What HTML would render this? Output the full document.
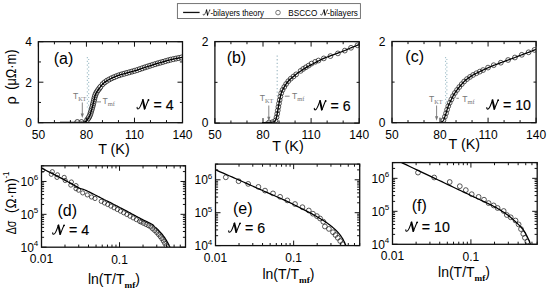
<!DOCTYPE html>
<html><head><meta charset="utf-8"><style>
html,body{margin:0;padding:0;background:#fff;}
svg{display:block;}
</style></head><body>
<svg xmlns="http://www.w3.org/2000/svg" width="550" height="292" viewBox="0 0 550 292">
<rect width="550" height="292" fill="#fff"/>
<clipPath id="ca"><rect x="38.4" y="41.7" width="144.10" height="81.00"/></clipPath>
<g clip-path="url(#ca)">
<g fill="#fff" stroke="#222" stroke-width="0.9"><circle cx="87.18" cy="119.87" r="2.5"/><circle cx="88.36" cy="118.25" r="2.5"/><circle cx="89.33" cy="116.51" r="2.5"/><circle cx="90.13" cy="114.67" r="2.5"/><circle cx="90.73" cy="112.77" r="2.5"/><circle cx="91.27" cy="110.84" r="2.5"/><circle cx="91.83" cy="108.92" r="2.5"/><circle cx="92.36" cy="106.99" r="2.5"/><circle cx="92.86" cy="105.06" r="2.5"/><circle cx="93.31" cy="103.11" r="2.5"/><circle cx="93.75" cy="101.16" r="2.5"/><circle cx="94.21" cy="99.21" r="2.5"/><circle cx="94.66" cy="97.26" r="2.5"/><circle cx="95.19" cy="95.33" r="2.5"/><circle cx="95.94" cy="93.48" r="2.5"/><circle cx="96.92" cy="91.74" r="2.5"/><circle cx="98.05" cy="90.09" r="2.5"/><circle cx="99.27" cy="88.51" r="2.5"/><circle cx="100.42" cy="86.87" r="2.5"/><circle cx="102.62" cy="84.16" r="2.5"/><circle cx="104.65" cy="82.37" r="2.5"/><circle cx="106.85" cy="80.82" r="2.5"/><circle cx="109.19" cy="79.46" r="2.5"/><circle cx="111.61" cy="78.28" r="2.5"/><circle cx="114.08" cy="77.18" r="2.5"/><circle cx="116.58" cy="76.16" r="2.5"/><circle cx="119.11" cy="75.22" r="2.5"/><circle cx="121.69" cy="74.41" r="2.5"/><circle cx="124.29" cy="73.68" r="2.5"/><circle cx="126.89" cy="72.96" r="2.5"/><circle cx="129.49" cy="72.24" r="2.5"/><circle cx="132.10" cy="71.53" r="2.5"/><circle cx="134.69" cy="70.80" r="2.5"/><circle cx="137.27" cy="70.00" r="2.5"/><circle cx="139.83" cy="69.13" r="2.5"/><circle cx="142.38" cy="68.25" r="2.5"/><circle cx="144.94" cy="67.39" r="2.5"/><circle cx="147.51" cy="66.55" r="2.5"/><circle cx="150.07" cy="65.71" r="2.5"/><circle cx="152.65" cy="64.90" r="2.5"/><circle cx="155.23" cy="64.10" r="2.5"/><circle cx="157.82" cy="63.34" r="2.5"/><circle cx="160.41" cy="62.58" r="2.5"/><circle cx="163.00" cy="61.84" r="2.5"/><circle cx="165.60" cy="61.09" r="2.5"/><circle cx="168.20" cy="60.35" r="2.5"/><circle cx="170.81" cy="59.67" r="2.5"/><circle cx="173.44" cy="59.08" r="2.5"/><circle cx="176.09" cy="58.54" r="2.5"/><circle cx="178.74" cy="58.01" r="2.5"/><circle cx="181.39" cy="57.50" r="2.5"/><circle cx="77.30" cy="122.10" r="2.5"/><circle cx="81.50" cy="122.10" r="2.5"/></g>
<path d="M60.00,122.40 L60.67,122.40 L61.55,122.40 L62.59,122.40 L63.76,122.40 L65.02,122.41 L66.34,122.41 L67.69,122.41 L69.02,122.41 L70.30,122.41 L71.50,122.41 L72.58,122.40 L73.50,122.40 L74.29,122.40 L75.01,122.39 L75.66,122.39 L76.26,122.38 L76.81,122.38 L77.31,122.37 L77.79,122.36 L78.24,122.35 L78.68,122.34 L79.11,122.33 L79.55,122.32 L80.00,122.30 L80.45,122.29 L80.88,122.29 L81.30,122.29 L81.71,122.29 L82.10,122.30 L82.48,122.29 L82.84,122.28 L83.19,122.26 L83.53,122.23 L83.87,122.17 L84.19,122.10 L84.50,122.00 L84.80,121.88 L85.08,121.74 L85.35,121.59 L85.60,121.42 L85.85,121.23 L86.08,121.04 L86.31,120.83 L86.53,120.60 L86.75,120.37 L86.96,120.12 L87.18,119.87 L87.40,119.60 L87.62,119.32 L87.84,119.03 L88.05,118.72 L88.27,118.40 L88.48,118.06 L88.68,117.72 L88.88,117.37 L89.08,117.00 L89.27,116.64 L89.45,116.26 L89.63,115.88 L89.80,115.50 L89.96,115.11 L90.12,114.71 L90.26,114.30 L90.40,113.87 L90.53,113.45 L90.66,113.01 L90.79,112.58 L90.91,112.14 L91.03,111.70 L91.15,111.26 L91.28,110.83 L91.40,110.40 L91.52,109.98 L91.65,109.55 L91.77,109.13 L91.89,108.70 L92.01,108.28 L92.12,107.86 L92.24,107.43 L92.36,107.01 L92.47,106.58 L92.58,106.16 L92.69,105.73 L92.80,105.30 L92.91,104.87 L93.01,104.44 L93.11,104.00 L93.21,103.57 L93.31,103.14 L93.41,102.70 L93.50,102.26 L93.60,101.83 L93.70,101.40 L93.80,100.96 L93.90,100.53 L94.00,100.10 L94.10,99.67 L94.21,99.22 L94.31,98.78 L94.41,98.33 L94.51,97.88 L94.62,97.44 L94.72,97.00 L94.83,96.57 L94.94,96.15 L95.06,95.75 L95.18,95.37 L95.30,95.00 L95.43,94.66 L95.55,94.33 L95.69,94.02 L95.82,93.73 L95.95,93.44 L96.09,93.17 L96.24,92.90 L96.38,92.64 L96.53,92.38 L96.68,92.12 L96.84,91.86 L97.00,91.60 L97.16,91.34 L97.33,91.09 L97.50,90.85 L97.67,90.61 L97.84,90.37 L98.02,90.14 L98.20,89.90 L98.39,89.66 L98.58,89.41 L98.78,89.15 L98.99,88.88 L99.20,88.60 L99.42,88.30 L99.65,87.98 L99.88,87.65 L100.12,87.30 L100.37,86.95 L100.62,86.60 L100.87,86.25 L101.13,85.90 L101.40,85.55 L101.66,85.22 L101.93,84.90 L102.20,84.60 L102.47,84.31 L102.74,84.04 L103.01,83.78 L103.28,83.52 L103.56,83.27 L103.84,83.02 L104.12,82.79 L104.42,82.55 L104.72,82.31 L105.04,82.08 L105.36,81.84 L105.70,81.60 L106.04,81.36 L106.39,81.13 L106.73,80.90 L107.08,80.67 L107.44,80.45 L107.81,80.22 L108.20,80.00 L108.61,79.77 L109.04,79.54 L109.49,79.30 L109.98,79.05 L110.50,78.80 L111.06,78.53 L111.65,78.26 L112.28,77.97 L112.94,77.68 L113.62,77.38 L114.32,77.08 L115.03,76.78 L115.75,76.49 L116.47,76.20 L117.19,75.92 L117.90,75.65 L118.60,75.40 L119.29,75.16 L119.99,74.93 L120.69,74.71 L121.40,74.50 L122.11,74.29 L122.82,74.09 L123.53,73.89 L124.24,73.69 L124.96,73.50 L125.67,73.30 L126.39,73.10 L127.10,72.90 L127.81,72.70 L128.53,72.50 L129.24,72.30 L129.96,72.11 L130.68,71.92 L131.39,71.73 L132.11,71.53 L132.83,71.33 L133.55,71.13 L134.27,70.93 L134.98,70.72 L135.70,70.50 L136.41,70.28 L137.13,70.05 L137.83,69.81 L138.54,69.57 L139.25,69.33 L139.96,69.09 L140.67,68.84 L141.38,68.59 L142.10,68.34 L142.83,68.09 L143.56,67.85 L144.30,67.60 L145.05,67.35 L145.82,67.10 L146.59,66.85 L147.38,66.59 L148.17,66.33 L148.96,66.07 L149.75,65.82 L150.53,65.57 L151.31,65.32 L152.09,65.07 L152.85,64.83 L153.60,64.60 L154.34,64.37 L155.06,64.15 L155.78,63.94 L156.49,63.73 L157.19,63.52 L157.89,63.31 L158.59,63.11 L159.29,62.91 L159.99,62.71 L160.69,62.51 L161.39,62.30 L162.10,62.10 L162.81,61.89 L163.53,61.69 L164.24,61.48 L164.96,61.27 L165.68,61.06 L166.39,60.86 L167.11,60.65 L167.83,60.45 L168.55,60.26 L169.27,60.06 L169.98,59.88 L170.70,59.70 L171.43,59.53 L172.20,59.35 L172.98,59.18 L173.77,59.01 L174.56,58.85 L175.34,58.69 L176.10,58.53 L176.83,58.39 L177.53,58.25 L178.18,58.12 L178.77,58.01 L179.30,57.90 L179.77,57.81 L180.18,57.72 L180.55,57.65 L180.89,57.59 L181.18,57.53 L181.44,57.49 L181.67,57.45 L181.87,57.41 L182.05,57.38 L182.21,57.35 L182.36,57.33 L182.50,57.30" fill="none" stroke="#000" stroke-width="1.35" stroke-linejoin="round"/>
</g>
<clipPath id="cb"><rect x="214.9" y="41.6" width="144.30" height="81.50"/></clipPath>
<g clip-path="url(#cb)">
<g fill="none" stroke="#222" stroke-width="0.75"><circle cx="357.50" cy="45.30" r="2.4"/><circle cx="351.00" cy="47.80" r="2.4"/><circle cx="344.80" cy="50.60" r="2.4"/><circle cx="337.90" cy="53.40" r="2.4"/><circle cx="330.40" cy="56.10" r="2.4"/><circle cx="323.80" cy="58.40" r="2.4"/><circle cx="318.50" cy="60.50" r="2.4"/><circle cx="315.20" cy="61.80" r="2.4"/><circle cx="311.50" cy="63.60" r="2.4"/><circle cx="308.60" cy="65.60" r="2.4"/><circle cx="305.80" cy="67.30" r="2.4"/><circle cx="303.20" cy="68.90" r="2.4"/><circle cx="300.60" cy="70.90" r="2.4"/><circle cx="269.00" cy="122.45" r="2.4"/><circle cx="272.49" cy="122.19" r="2.4"/><circle cx="275.38" cy="120.55" r="2.4"/><circle cx="276.51" cy="117.25" r="2.4"/><circle cx="277.22" cy="113.82" r="2.4"/><circle cx="277.80" cy="110.37" r="2.4"/><circle cx="278.37" cy="106.91" r="2.4"/><circle cx="278.98" cy="103.47" r="2.4"/><circle cx="279.66" cy="100.03" r="2.4"/><circle cx="280.40" cy="96.61" r="2.4"/><circle cx="281.22" cy="93.21" r="2.4"/><circle cx="282.54" cy="89.98" r="2.4"/><circle cx="284.29" cy="86.95" r="2.4"/><circle cx="286.14" cy="83.98" r="2.4"/><circle cx="288.27" cy="81.21" r="2.4"/><circle cx="290.72" cy="78.71" r="2.4"/><circle cx="293.44" cy="76.51" r="2.4"/><circle cx="296.19" cy="74.34" r="2.4"/></g>
<path d="M262.00,122.50 L262.40,122.50 L262.91,122.50 L263.52,122.50 L264.21,122.50 L264.95,122.50 L265.73,122.49 L266.52,122.49 L267.31,122.48 L268.07,122.47 L268.79,122.45 L269.44,122.43 L270.00,122.40 L270.50,122.37 L270.96,122.34 L271.40,122.30 L271.81,122.27 L272.20,122.23 L272.56,122.18 L272.89,122.13 L273.21,122.07 L273.51,121.99 L273.79,121.91 L274.05,121.81 L274.30,121.70 L274.52,121.58 L274.72,121.45 L274.88,121.31 L275.02,121.16 L275.14,121.01 L275.24,120.84 L275.34,120.66 L275.43,120.46 L275.51,120.25 L275.60,120.02 L275.69,119.77 L275.80,119.50 L275.91,119.22 L276.01,118.95 L276.11,118.67 L276.20,118.37 L276.30,118.07 L276.39,117.74 L276.48,117.38 L276.57,116.99 L276.67,116.57 L276.77,116.09 L276.88,115.57 L277.00,115.00 L277.12,114.35 L277.26,113.62 L277.39,112.83 L277.54,111.98 L277.68,111.10 L277.83,110.19 L277.98,109.27 L278.13,108.35 L278.28,107.45 L278.42,106.59 L278.56,105.76 L278.70,105.00 L278.83,104.28 L278.96,103.58 L279.09,102.90 L279.22,102.24 L279.34,101.60 L279.47,100.97 L279.59,100.36 L279.71,99.76 L279.84,99.18 L279.96,98.61 L280.08,98.05 L280.20,97.50 L280.32,96.97 L280.43,96.44 L280.55,95.94 L280.66,95.44 L280.77,94.97 L280.88,94.50 L280.99,94.05 L281.11,93.61 L281.22,93.19 L281.34,92.78 L281.47,92.38 L281.60,92.00 L281.73,91.64 L281.87,91.30 L282.01,90.99 L282.16,90.69 L282.30,90.41 L282.45,90.14 L282.60,89.87 L282.76,89.61 L282.91,89.34 L283.07,89.07 L283.23,88.79 L283.40,88.50 L283.57,88.20 L283.75,87.88 L283.93,87.57 L284.11,87.25 L284.30,86.93 L284.49,86.61 L284.68,86.29 L284.87,85.97 L285.05,85.67 L285.24,85.37 L285.42,85.08 L285.60,84.80 L285.77,84.54 L285.94,84.28 L286.10,84.04 L286.25,83.81 L286.41,83.58 L286.56,83.36 L286.72,83.14 L286.88,82.91 L287.05,82.69 L287.22,82.47 L287.41,82.24 L287.60,82.00 L287.80,81.76 L288.00,81.52 L288.21,81.27 L288.42,81.03 L288.64,80.78 L288.86,80.54 L289.09,80.29 L289.33,80.04 L289.58,79.78 L289.84,79.53 L290.12,79.26 L290.40,79.00 L290.70,78.73 L291.02,78.45 L291.36,78.17 L291.71,77.88 L292.07,77.59 L292.43,77.30 L292.80,77.01 L293.17,76.72 L293.54,76.43 L293.90,76.15 L294.26,75.87 L294.60,75.60 L294.93,75.34 L295.26,75.08 L295.57,74.83 L295.89,74.58 L296.20,74.34 L296.51,74.09 L296.83,73.85 L297.14,73.61 L297.47,73.36 L297.80,73.11 L298.14,72.86 L298.50,72.60 L298.87,72.33 L299.24,72.06 L299.63,71.79 L300.02,71.51 L300.42,71.23 L300.82,70.95 L301.23,70.67 L301.64,70.39 L302.06,70.11 L302.47,69.84 L302.89,69.57 L303.30,69.30 L303.71,69.04 L304.10,68.80 L304.49,68.56 L304.87,68.33 L305.26,68.09 L305.65,67.86 L306.05,67.63 L306.47,67.39 L306.91,67.13 L307.38,66.87 L307.87,66.59 L308.40,66.30 L308.97,65.98 L309.57,65.65 L310.21,65.30 L310.87,64.94 L311.56,64.57 L312.26,64.19 L312.96,63.81 L313.67,63.43 L314.37,63.06 L315.07,62.69 L315.75,62.34 L316.40,62.00 L317.04,61.67 L317.67,61.35 L318.30,61.03 L318.93,60.71 L319.55,60.40 L320.16,60.10 L320.78,59.80 L321.39,59.51 L321.99,59.22 L322.60,58.94 L323.20,58.67 L323.80,58.40 L324.40,58.14 L324.99,57.90 L325.58,57.66 L326.16,57.43 L326.74,57.21 L327.32,56.99 L327.90,56.77 L328.47,56.56 L329.05,56.35 L329.63,56.13 L330.21,55.92 L330.80,55.70 L331.39,55.48 L331.98,55.26 L332.57,55.04 L333.17,54.83 L333.76,54.61 L334.36,54.39 L334.95,54.18 L335.54,53.96 L336.14,53.75 L336.73,53.53 L337.32,53.32 L337.90,53.10 L338.48,52.88 L339.07,52.67 L339.66,52.45 L340.24,52.24 L340.82,52.02 L341.41,51.81 L341.98,51.59 L342.56,51.37 L343.13,51.16 L343.69,50.94 L344.25,50.72 L344.80,50.50 L345.33,50.28 L345.85,50.06 L346.35,49.84 L346.84,49.63 L347.33,49.41 L347.82,49.19 L348.31,48.97 L348.81,48.74 L349.33,48.51 L349.86,48.28 L350.42,48.04 L351.00,47.80 L351.64,47.54 L352.35,47.26 L353.10,46.96 L353.89,46.65 L354.69,46.34 L355.49,46.03 L356.26,45.73 L357.00,45.45 L357.68,45.19 L358.28,44.95 L358.80,44.76 L359.20,44.60" fill="none" stroke="#000" stroke-width="1.25" stroke-linejoin="round"/>
</g>
<clipPath id="cc"><rect x="392.0" y="41.5" width="144.10" height="81.20"/></clipPath>
<g clip-path="url(#cc)">
<g fill="none" stroke="#222" stroke-width="0.75"><circle cx="534.50" cy="49.90" r="2.4"/><circle cx="528.60" cy="52.30" r="2.4"/><circle cx="521.80" cy="54.80" r="2.4"/><circle cx="514.90" cy="57.50" r="2.4"/><circle cx="508.10" cy="60.00" r="2.4"/><circle cx="500.80" cy="62.70" r="2.4"/><circle cx="493.70" cy="65.20" r="2.4"/><circle cx="488.00" cy="67.60" r="2.4"/><circle cx="443.48" cy="120.16" r="2.4"/><circle cx="444.90" cy="116.75" r="2.4"/><circle cx="446.06" cy="113.24" r="2.4"/><circle cx="447.10" cy="109.69" r="2.4"/><circle cx="448.25" cy="106.17" r="2.4"/><circle cx="449.71" cy="102.78" r="2.4"/><circle cx="451.36" cy="99.46" r="2.4"/><circle cx="452.97" cy="96.13" r="2.4"/><circle cx="454.89" cy="92.97" r="2.4"/><circle cx="457.03" cy="89.95" r="2.4"/><circle cx="459.29" cy="87.03" r="2.4"/><circle cx="461.69" cy="84.21" r="2.4"/><circle cx="464.18" cy="81.48" r="2.4"/><circle cx="466.99" cy="79.06" r="2.4"/><circle cx="470.00" cy="76.92" r="2.4"/><circle cx="473.12" cy="74.93" r="2.4"/><circle cx="476.40" cy="73.23" r="2.4"/><circle cx="479.75" cy="71.64" r="2.4"/><circle cx="483.09" cy="70.05" r="2.4"/></g>
<path d="M436.00,122.50 L436.25,122.50 L436.57,122.50 L436.96,122.51 L437.39,122.51 L437.86,122.52 L438.35,122.53 L438.85,122.52 L439.34,122.51 L439.82,122.48 L440.26,122.44 L440.66,122.38 L441.00,122.30 L441.29,122.21 L441.55,122.11 L441.79,122.00 L442.00,121.89 L442.20,121.76 L442.38,121.62 L442.55,121.46 L442.72,121.28 L442.88,121.07 L443.05,120.85 L443.22,120.59 L443.40,120.30 L443.59,119.97 L443.77,119.60 L443.96,119.20 L444.14,118.77 L444.33,118.31 L444.51,117.84 L444.68,117.35 L444.86,116.87 L445.02,116.38 L445.19,115.90 L445.35,115.44 L445.50,115.00 L445.65,114.57 L445.78,114.15 L445.91,113.73 L446.04,113.31 L446.16,112.90 L446.27,112.48 L446.39,112.07 L446.51,111.66 L446.62,111.24 L446.75,110.83 L446.87,110.42 L447.00,110.00 L447.13,109.58 L447.26,109.17 L447.39,108.75 L447.53,108.33 L447.66,107.92 L447.79,107.50 L447.93,107.08 L448.07,106.67 L448.22,106.25 L448.37,105.83 L448.53,105.42 L448.70,105.00 L448.88,104.58 L449.06,104.17 L449.25,103.75 L449.44,103.33 L449.65,102.92 L449.85,102.50 L450.06,102.08 L450.27,101.67 L450.48,101.25 L450.69,100.83 L450.89,100.42 L451.10,100.00 L451.30,99.58 L451.50,99.17 L451.70,98.75 L451.89,98.33 L452.09,97.92 L452.29,97.50 L452.49,97.08 L452.70,96.67 L452.91,96.25 L453.13,95.83 L453.36,95.42 L453.60,95.00 L453.85,94.58 L454.11,94.17 L454.37,93.75 L454.64,93.33 L454.92,92.92 L455.21,92.50 L455.50,92.08 L455.79,91.67 L456.09,91.25 L456.39,90.83 L456.69,90.42 L457.00,90.00 L457.31,89.58 L457.62,89.17 L457.94,88.75 L458.26,88.33 L458.58,87.92 L458.91,87.50 L459.25,87.08 L459.59,86.67 L459.93,86.25 L460.28,85.83 L460.64,85.42 L461.00,85.00 L461.36,84.58 L461.73,84.17 L462.09,83.75 L462.45,83.33 L462.82,82.92 L463.20,82.50 L463.59,82.08 L463.99,81.67 L464.41,81.25 L464.85,80.83 L465.31,80.42 L465.80,80.00 L466.32,79.58 L466.88,79.14 L467.47,78.70 L468.09,78.25 L468.72,77.80 L469.36,77.36 L470.01,76.92 L470.64,76.50 L471.27,76.09 L471.88,75.70 L472.46,75.34 L473.00,75.00 L473.51,74.69 L474.01,74.41 L474.49,74.15 L474.96,73.91 L475.41,73.69 L475.85,73.48 L476.28,73.28 L476.71,73.09 L477.13,72.89 L477.56,72.70 L477.98,72.50 L478.40,72.30 L478.82,72.09 L479.23,71.89 L479.64,71.69 L480.04,71.50 L480.44,71.31 L480.84,71.12 L481.23,70.93 L481.62,70.74 L482.01,70.56 L482.41,70.37 L482.80,70.19 L483.20,70.00 L483.60,69.81 L483.99,69.63 L484.38,69.45 L484.77,69.27 L485.15,69.09 L485.54,68.91 L485.94,68.73 L486.33,68.54 L486.74,68.36 L487.15,68.18 L487.57,67.99 L488.00,67.80 L488.44,67.61 L488.88,67.42 L489.33,67.22 L489.78,67.03 L490.24,66.83 L490.71,66.63 L491.18,66.43 L491.66,66.23 L492.16,66.03 L492.66,65.82 L493.17,65.61 L493.70,65.40 L494.24,65.19 L494.80,64.97 L495.37,64.75 L495.96,64.52 L496.55,64.30 L497.15,64.07 L497.76,63.84 L498.37,63.61 L498.98,63.38 L499.59,63.15 L500.20,62.93 L500.80,62.70 L501.40,62.47 L502.01,62.25 L502.62,62.02 L503.24,61.79 L503.85,61.56 L504.47,61.34 L505.08,61.11 L505.70,60.89 L506.31,60.66 L506.91,60.44 L507.51,60.22 L508.10,60.00 L508.68,59.79 L509.26,59.57 L509.83,59.37 L510.40,59.16 L510.96,58.95 L511.52,58.75 L512.08,58.55 L512.64,58.34 L513.20,58.13 L513.77,57.93 L514.33,57.71 L514.90,57.50 L515.47,57.28 L516.05,57.06 L516.62,56.83 L517.20,56.61 L517.77,56.38 L518.35,56.15 L518.93,55.92 L519.50,55.69 L520.08,55.47 L520.65,55.24 L521.23,55.02 L521.80,54.80 L522.37,54.59 L522.93,54.38 L523.49,54.17 L524.05,53.97 L524.60,53.76 L525.16,53.56 L525.72,53.36 L526.29,53.16 L526.85,52.95 L527.43,52.74 L528.01,52.52 L528.60,52.30 L529.22,52.06 L529.90,51.81 L530.60,51.54 L531.33,51.26 L532.06,50.97 L532.77,50.69 L533.47,50.42 L534.13,50.17 L534.74,49.93 L535.28,49.72 L535.74,49.54 L536.10,49.40" fill="none" stroke="#000" stroke-width="1.25" stroke-linejoin="round"/>
</g>
<clipPath id="cd"><rect x="41.5" y="165.8" width="144.00" height="81.40"/></clipPath>
<g clip-path="url(#cd)">
<g fill="none" stroke="#222" stroke-width="0.75"><circle cx="42.60" cy="170.20" r="2.1"/><circle cx="52.30" cy="171.70" r="2.1"/><circle cx="51.30" cy="174.30" r="2.1"/><circle cx="57.50" cy="174.80" r="2.1"/><circle cx="57.00" cy="177.40" r="2.1"/><circle cx="64.20" cy="177.40" r="2.1"/><circle cx="65.20" cy="180.50" r="2.1"/><circle cx="71.40" cy="182.00" r="2.1"/><circle cx="70.80" cy="185.10" r="2.1"/><circle cx="76.00" cy="185.60" r="2.1"/><circle cx="76.00" cy="188.70" r="2.1"/><circle cx="78.60" cy="190.20" r="2.1"/><circle cx="82.70" cy="192.90" r="2.1"/><circle cx="87.30" cy="194.90" r="2.1"/><circle cx="91.50" cy="197.00" r="2.1"/><circle cx="95.00" cy="198.50" r="2.1"/><circle cx="101.23" cy="201.33" r="2.1"/><circle cx="104.44" cy="202.96" r="2.1"/><circle cx="107.69" cy="204.50" r="2.1"/><circle cx="110.90" cy="206.13" r="2.1"/><circle cx="114.09" cy="207.80" r="2.1"/><circle cx="117.29" cy="209.46" r="2.1"/><circle cx="120.48" cy="211.12" r="2.1"/><circle cx="123.67" cy="212.79" r="2.1"/><circle cx="126.84" cy="214.49" r="2.1"/><circle cx="130.01" cy="216.20" r="2.1"/><circle cx="133.18" cy="217.91" r="2.1"/><circle cx="136.36" cy="219.60" r="2.1"/><circle cx="139.54" cy="221.28" r="2.1"/><circle cx="141.14" cy="222.11" r="2.1"/><circle cx="143.55" cy="223.32" r="2.1"/><circle cx="145.98" cy="224.50" r="2.1"/><circle cx="148.40" cy="225.70" r="2.1"/><circle cx="150.76" cy="227.01" r="2.1"/><circle cx="152.68" cy="228.89" r="2.1"/><circle cx="154.74" cy="230.63" r="2.1"/><circle cx="156.68" cy="232.50" r="2.1"/><circle cx="158.49" cy="234.51" r="2.1"/><circle cx="160.23" cy="236.58" r="2.1"/><circle cx="161.87" cy="238.72" r="2.1"/><circle cx="163.33" cy="240.99" r="2.1"/><circle cx="164.70" cy="243.31" r="2.1"/><circle cx="166.04" cy="245.66" r="2.1"/></g>
<path d="M41.50,168.10 L42.44,168.58 L43.63,169.19 L45.04,169.91 L46.63,170.71 L48.34,171.59 L50.15,172.51 L52.01,173.46 L53.87,174.42 L55.71,175.36 L57.47,176.27 L59.11,177.12 L60.60,177.90 L61.99,178.64 L63.38,179.37 L64.75,180.11 L66.10,180.84 L67.41,181.55 L68.68,182.24 L69.90,182.91 L71.07,183.55 L72.17,184.16 L73.20,184.72 L74.14,185.23 L75.00,185.70 L75.75,186.11 L76.38,186.46 L76.91,186.76 L77.36,187.02 L77.75,187.24 L78.09,187.44 L78.39,187.61 L78.68,187.77 L78.97,187.92 L79.28,188.07 L79.61,188.23 L80.00,188.40 L80.40,188.56 L80.77,188.69 L81.12,188.79 L81.46,188.88 L81.80,188.96 L82.15,189.04 L82.52,189.13 L82.92,189.24 L83.36,189.37 L83.84,189.54 L84.39,189.74 L85.00,190.00 L85.69,190.31 L86.46,190.66 L87.28,191.06 L88.16,191.48 L89.08,191.93 L90.03,192.40 L90.98,192.88 L91.95,193.36 L92.90,193.84 L93.84,194.31 L94.74,194.77 L95.60,195.20 L96.44,195.62 L97.29,196.05 L98.14,196.48 L98.99,196.92 L99.82,197.35 L100.65,197.77 L101.46,198.19 L102.24,198.59 L102.99,198.98 L103.70,199.34 L104.37,199.69 L105.00,200.00 L105.57,200.28 L106.09,200.54 L106.56,200.76 L106.99,200.97 L107.40,201.16 L107.78,201.34 L108.14,201.51 L108.50,201.67 L108.85,201.84 L109.22,202.02 L109.60,202.20 L110.00,202.40 L110.40,202.60 L110.78,202.79 L111.14,202.98 L111.50,203.16 L111.85,203.35 L112.21,203.54 L112.59,203.74 L112.99,203.95 L113.43,204.18 L113.90,204.43 L114.42,204.70 L115.00,205.00 L115.65,205.34 L116.38,205.72 L117.18,206.13 L118.01,206.57 L118.89,207.02 L119.78,207.48 L120.66,207.94 L121.54,208.40 L122.39,208.84 L123.19,209.26 L123.93,209.65 L124.60,210.00 L125.20,210.32 L125.75,210.61 L126.25,210.88 L126.73,211.13 L127.17,211.37 L127.59,211.59 L127.99,211.81 L128.39,212.03 L128.78,212.24 L129.17,212.45 L129.58,212.67 L130.00,212.90 L130.42,213.13 L130.82,213.35 L131.21,213.56 L131.59,213.76 L131.97,213.97 L132.35,214.18 L132.74,214.39 L133.14,214.60 L133.56,214.83 L134.01,215.07 L134.49,215.33 L135.00,215.60 L135.55,215.89 L136.12,216.20 L136.72,216.51 L137.34,216.84 L137.99,217.18 L138.64,217.53 L139.32,217.89 L140.00,218.24 L140.69,218.61 L141.39,218.97 L142.10,219.34 L142.80,219.70 L143.53,220.07 L144.31,220.46 L145.13,220.86 L145.97,221.27 L146.81,221.68 L147.66,222.09 L148.48,222.50 L149.28,222.90 L150.03,223.28 L150.73,223.64 L151.35,223.99 L151.90,224.30 L152.36,224.58 L152.73,224.84 L153.04,225.07 L153.30,225.29 L153.51,225.49 L153.69,225.68 L153.85,225.87 L154.00,226.06 L154.16,226.25 L154.34,226.45 L154.55,226.67 L154.80,226.90 L155.08,227.14 L155.35,227.38 L155.63,227.61 L155.92,227.84 L156.21,228.08 L156.51,228.33 L156.81,228.59 L157.13,228.87 L157.45,229.16 L157.79,229.48 L158.14,229.82 L158.50,230.20 L158.89,230.61 L159.30,231.07 L159.74,231.55 L160.19,232.06 L160.66,232.59 L161.12,233.13 L161.59,233.68 L162.05,234.23 L162.50,234.77 L162.93,235.30 L163.33,235.81 L163.70,236.30 L164.04,236.77 L164.37,237.23 L164.68,237.68 L164.97,238.13 L165.25,238.57 L165.52,239.00 L165.78,239.43 L166.03,239.85 L166.28,240.27 L166.52,240.68 L166.76,241.09 L167.00,241.50 L167.24,241.91 L167.49,242.33 L167.73,242.75 L167.97,243.17 L168.20,243.58 L168.43,243.99 L168.64,244.38 L168.84,244.76 L169.03,245.11 L169.21,245.44 L169.36,245.74 L169.50,246.00 L169.61,246.23 L169.70,246.43 L169.78,246.60 L169.83,246.75 L169.88,246.87 L169.91,246.98 L169.93,247.07 L169.94,247.15 L169.96,247.22 L169.97,247.28 L169.98,247.34 L170.00,247.40" fill="none" stroke="#000" stroke-width="1.25" stroke-linejoin="round"/>
</g>
<clipPath id="ce"><rect x="215.5" y="164.1" width="144.20" height="81.50"/></clipPath>
<g clip-path="url(#ce)">
<g fill="none" stroke="#222" stroke-width="0.75"><circle cx="225.80" cy="177.30" r="2.4"/><circle cx="238.60" cy="181.20" r="2.4"/><circle cx="248.20" cy="183.90" r="2.4"/><circle cx="258.40" cy="186.90" r="2.4"/><circle cx="265.00" cy="190.60" r="2.4"/><circle cx="273.00" cy="193.40" r="2.4"/><circle cx="280.10" cy="196.80" r="2.4"/><circle cx="287.30" cy="200.40" r="2.4"/><circle cx="295.00" cy="204.00" r="2.4"/><circle cx="302.40" cy="207.20" r="2.4"/><circle cx="308.80" cy="210.50" r="2.4"/><circle cx="312.90" cy="213.70" r="2.4"/><circle cx="316.90" cy="216.10" r="2.4"/><circle cx="320.10" cy="218.50" r="2.4"/><circle cx="323.30" cy="221.70" r="2.4"/><circle cx="324.90" cy="226.50" r="2.4"/><circle cx="328.90" cy="228.90" r="2.4"/><circle cx="333.00" cy="232.20" r="2.4"/><circle cx="335.50" cy="235.00" r="2.4"/><circle cx="337.80" cy="237.80" r="2.4"/><circle cx="340.20" cy="241.00" r="2.4"/><circle cx="342.60" cy="244.20" r="2.4"/></g>
<path d="M215.50,169.80 L216.59,170.27 L217.95,170.87 L219.55,171.56 L221.35,172.34 L223.31,173.19 L225.38,174.09 L227.52,175.02 L229.70,175.97 L231.88,176.92 L234.02,177.85 L236.07,178.75 L238.00,179.60 L239.84,180.41 L241.66,181.22 L243.46,182.02 L245.26,182.82 L247.05,183.62 L248.84,184.42 L250.65,185.23 L252.46,186.04 L254.30,186.87 L256.17,187.70 L258.06,188.54 L260.00,189.40 L262.01,190.29 L264.11,191.21 L266.27,192.15 L268.48,193.11 L270.71,194.08 L272.94,195.05 L275.14,196.01 L277.30,196.96 L279.38,197.88 L281.38,198.76 L283.26,199.61 L285.00,200.40 L286.61,201.15 L288.11,201.86 L289.52,202.53 L290.85,203.18 L292.11,203.80 L293.31,204.41 L294.47,204.99 L295.59,205.56 L296.70,206.13 L297.79,206.68 L298.89,207.24 L300.00,207.80 L301.10,208.35 L302.17,208.88 L303.21,209.39 L304.22,209.89 L305.21,210.38 L306.18,210.87 L307.14,211.35 L308.10,211.84 L309.06,212.34 L310.03,212.84 L311.01,213.36 L312.00,213.90 L313.02,214.47 L314.08,215.06 L315.16,215.67 L316.26,216.30 L317.35,216.93 L318.43,217.57 L319.49,218.20 L320.52,218.81 L321.51,219.41 L322.44,219.97 L323.31,220.51 L324.10,221.00 L324.81,221.45 L325.45,221.86 L326.02,222.24 L326.54,222.60 L327.02,222.94 L327.47,223.26 L327.89,223.57 L328.30,223.88 L328.71,224.19 L329.12,224.51 L329.55,224.85 L330.00,225.20 L330.47,225.57 L330.94,225.95 L331.42,226.33 L331.89,226.71 L332.35,227.10 L332.81,227.49 L333.27,227.88 L333.71,228.27 L334.15,228.65 L334.58,229.04 L335.00,229.42 L335.40,229.80 L335.79,230.17 L336.17,230.54 L336.54,230.91 L336.90,231.28 L337.25,231.64 L337.59,232.01 L337.93,232.37 L338.26,232.73 L338.58,233.10 L338.89,233.46 L339.20,233.83 L339.50,234.20 L339.80,234.57 L340.09,234.95 L340.37,235.33 L340.65,235.72 L340.92,236.10 L341.18,236.49 L341.44,236.87 L341.69,237.25 L341.93,237.62 L342.16,237.99 L342.38,238.35 L342.60,238.70 L342.81,239.04 L343.00,239.38 L343.19,239.71 L343.37,240.03 L343.54,240.35 L343.71,240.66 L343.86,240.97 L344.02,241.28 L344.17,241.59 L344.31,241.89 L344.46,242.20 L344.60,242.50 L344.74,242.81 L344.88,243.14 L345.03,243.48 L345.16,243.82 L345.30,244.16 L345.43,244.49 L345.55,244.80 L345.66,245.10 L345.76,245.38 L345.85,245.62 L345.93,245.83 L346.00,246.00" fill="none" stroke="#000" stroke-width="1.25" stroke-linejoin="round"/>
</g>
<clipPath id="cf"><rect x="392.5" y="162.6" width="144.70" height="81.70"/></clipPath>
<g clip-path="url(#cf)">
<g fill="none" stroke="#222" stroke-width="0.75"><circle cx="418.00" cy="172.60" r="2.4"/><circle cx="434.20" cy="177.50" r="2.4"/><circle cx="449.70" cy="182.00" r="2.4"/><circle cx="459.80" cy="186.20" r="2.4"/><circle cx="465.80" cy="190.10" r="2.4"/><circle cx="471.70" cy="194.20" r="2.4"/><circle cx="478.60" cy="196.90" r="2.4"/><circle cx="484.00" cy="199.70" r="2.4"/><circle cx="488.60" cy="203.10" r="2.4"/><circle cx="493.60" cy="205.40" r="2.4"/><circle cx="497.60" cy="208.00" r="2.4"/><circle cx="503.70" cy="211.00" r="2.4"/><circle cx="506.80" cy="215.00" r="2.4"/><circle cx="510.70" cy="217.30" r="2.4"/><circle cx="515.50" cy="220.50" r="2.4"/><circle cx="518.60" cy="224.40" r="2.4"/><circle cx="521.00" cy="229.10" r="2.4"/><circle cx="523.30" cy="233.80" r="2.4"/><circle cx="524.90" cy="237.80" r="2.4"/><circle cx="527.30" cy="241.70" r="2.4"/></g>
<path d="M401.60,162.60 L403.75,163.62 L406.51,164.93 L409.77,166.48 L413.44,168.22 L417.42,170.11 L421.59,172.09 L425.85,174.11 L430.11,176.13 L434.26,178.10 L438.19,179.97 L441.81,181.68 L445.00,183.20 L447.91,184.58 L450.72,185.92 L453.44,187.20 L456.05,188.44 L458.55,189.63 L460.94,190.76 L463.20,191.83 L465.33,192.84 L467.32,193.79 L469.16,194.67 L470.86,195.47 L472.40,196.20 L473.72,196.83 L474.78,197.33 L475.64,197.74 L476.31,198.06 L476.85,198.31 L477.29,198.52 L477.67,198.70 L478.02,198.87 L478.40,199.04 L478.82,199.25 L479.35,199.49 L480.00,199.80 L480.75,200.15 L481.54,200.52 L482.35,200.89 L483.19,201.28 L484.04,201.67 L484.90,202.07 L485.77,202.47 L486.64,202.88 L487.50,203.29 L488.35,203.69 L489.19,204.10 L490.00,204.50 L490.79,204.90 L491.58,205.29 L492.35,205.67 L493.11,206.06 L493.87,206.45 L494.62,206.84 L495.38,207.23 L496.13,207.64 L496.89,208.06 L497.65,208.49 L498.42,208.94 L499.20,209.40 L499.99,209.89 L500.80,210.39 L501.62,210.91 L502.44,211.44 L503.27,211.98 L504.10,212.54 L504.92,213.10 L505.73,213.66 L506.53,214.22 L507.31,214.79 L508.07,215.35 L508.80,215.90 L509.51,216.45 L510.20,217.01 L510.88,217.58 L511.55,218.15 L512.20,218.72 L512.84,219.29 L513.46,219.85 L514.07,220.42 L514.67,220.98 L515.26,221.53 L515.84,222.07 L516.40,222.60 L516.95,223.12 L517.49,223.63 L518.02,224.13 L518.54,224.63 L519.05,225.12 L519.54,225.61 L520.02,226.09 L520.48,226.57 L520.93,227.05 L521.37,227.53 L521.79,228.01 L522.20,228.50 L522.59,228.99 L522.96,229.48 L523.32,229.96 L523.66,230.45 L523.98,230.94 L524.29,231.43 L524.60,231.91 L524.89,232.39 L525.17,232.87 L525.45,233.35 L525.73,233.83 L526.00,234.30 L526.27,234.77 L526.53,235.25 L526.78,235.73 L527.02,236.21 L527.26,236.69 L527.49,237.17 L527.71,237.64 L527.92,238.10 L528.13,238.54 L528.33,238.98 L528.52,239.40 L528.70,239.80 L528.87,240.19 L529.04,240.57 L529.20,240.94 L529.35,241.30 L529.49,241.64 L529.63,241.98 L529.75,242.30 L529.87,242.61 L529.99,242.91 L530.10,243.19 L530.20,243.45 L530.30,243.70 L530.39,243.93 L530.48,244.14 L530.55,244.34 L530.63,244.52 L530.69,244.69 L530.75,244.84 L530.80,244.98 L530.85,245.11 L530.90,245.23 L530.93,245.33 L530.97,245.42 L531.00,245.50" fill="none" stroke="#000" stroke-width="1.25" stroke-linejoin="round"/>
</g>
<line x1="87.35" y1="57.0" x2="87.35" y2="110" stroke="#a5c2cc" stroke-width="1.15" stroke-dasharray="1.2 2.6"/>
<line x1="88.65" y1="58.9" x2="88.65" y2="110" stroke="#a5c2cc" stroke-width="1.15" stroke-dasharray="1.2 2.6"/>
<text x="72.9" y="98.8" font-size="8.6" fill="#777" font-family="Liberation Sans, sans-serif">T<tspan font-family="Liberation Serif, serif" font-size="6.2" dy="2.6">KT</tspan></text>
<line x1="82.3" y1="102.5" x2="82.3" y2="115" stroke="#777" stroke-width="0.9"/>
<path d="M80.7,113.5 L82.3,118 L83.89999999999999,113.5 Z" fill="#777"/>
<line x1="95.6" y1="101.9" x2="101" y2="101.9" stroke="#777" stroke-width="0.9"/>
<text x="102.4" y="103.6" font-size="8.6" fill="#777" font-family="Liberation Sans, sans-serif">T<tspan font-family="Liberation Serif, serif" font-size="6.5" dy="2.4">mf</tspan></text>
<line x1="277.2" y1="55.5" x2="277.2" y2="96" stroke="#a3bcc6" stroke-width="1.2" stroke-dasharray="1.3 2.3"/>
<text x="259.7" y="100.8" font-size="8.6" fill="#777" font-family="Liberation Sans, sans-serif">T<tspan font-family="Liberation Serif, serif" font-size="6.2" dy="2.6">KT</tspan></text>
<line x1="268.8" y1="105.5" x2="268.8" y2="118.3" stroke="#777" stroke-width="0.9"/>
<path d="M267.2,116.8 L268.8,121.3 L270.40000000000003,116.8 Z" fill="#777"/>
<line x1="284.8" y1="96.2" x2="289.6" y2="96.2" stroke="#777" stroke-width="0.9"/>
<text x="292.0" y="98.6" font-size="8.6" fill="#777" font-family="Liberation Sans, sans-serif">T<tspan font-family="Liberation Serif, serif" font-size="6.5" dy="2.4">mf</tspan></text>
<line x1="445.55" y1="57.0" x2="445.55" y2="104.5" stroke="#a5c2cc" stroke-width="1.15" stroke-dasharray="1.2 2.6"/>
<line x1="446.84999999999997" y1="58.9" x2="446.84999999999997" y2="104.5" stroke="#a5c2cc" stroke-width="1.15" stroke-dasharray="1.2 2.6"/>
<text x="429.1" y="101.6" font-size="8.6" fill="#777" font-family="Liberation Sans, sans-serif">T<tspan font-family="Liberation Serif, serif" font-size="6.2" dy="2.6">KT</tspan></text>
<line x1="436.6" y1="105.5" x2="436.6" y2="117.8" stroke="#777" stroke-width="0.9"/>
<path d="M435.0,116.3 L436.6,120.8 L438.20000000000005,116.3 Z" fill="#777"/>
<line x1="456.4" y1="98.3" x2="458.9" y2="98.3" stroke="#777" stroke-width="0.9"/>
<text x="462.3" y="101.6" font-size="8.6" fill="#777" font-family="Liberation Sans, sans-serif">T<tspan font-family="Liberation Serif, serif" font-size="6.5" dy="2.4">mf</tspan></text>
<rect x="38.4" y="41.7" width="144.10" height="81.00" fill="none" stroke="#111" stroke-width="1.3"/>
<rect x="214.9" y="41.6" width="144.30" height="81.50" fill="none" stroke="#111" stroke-width="1.3"/>
<rect x="392.0" y="41.5" width="144.10" height="81.20" fill="none" stroke="#111" stroke-width="1.3"/>
<rect x="41.5" y="165.8" width="144.00" height="81.40" fill="none" stroke="#111" stroke-width="1.3"/>
<rect x="215.5" y="164.1" width="144.20" height="81.50" fill="none" stroke="#111" stroke-width="1.3"/>
<rect x="392.5" y="162.6" width="144.70" height="81.70" fill="none" stroke="#111" stroke-width="1.3"/>
<path d="M38.40,122.7v-5M38.40,41.7v5M54.41,122.7v-2.6M54.41,41.7v2.6M70.42,122.7v-2.6M70.42,41.7v2.6M86.43,122.7v-5M86.43,41.7v5M102.44,122.7v-2.6M102.44,41.7v2.6M118.46,122.7v-2.6M118.46,41.7v2.6M134.47,122.7v-5M134.47,41.7v5M150.48,122.7v-2.6M150.48,41.7v2.6M166.49,122.7v-2.6M166.49,41.7v2.6M182.50,122.7v-5M182.50,41.7v5M38.4,122.70h5M182.5,122.70h-5M38.4,102.45h2.6M182.5,102.45h-2.6M38.4,82.20h5M182.5,82.20h-5M38.4,61.95h2.6M182.5,61.95h-2.6M38.4,41.70h5M182.5,41.70h-5" stroke="#111" stroke-width="1" fill="none"/>
<path d="M214.90,123.1v-5M214.90,41.6v5M230.93,123.1v-2.6M230.93,41.6v2.6M246.97,123.1v-2.6M246.97,41.6v2.6M263.00,123.1v-5M263.00,41.6v5M279.03,123.1v-2.6M279.03,41.6v2.6M295.07,123.1v-2.6M295.07,41.6v2.6M311.10,123.1v-5M311.10,41.6v5M327.13,123.1v-2.6M327.13,41.6v2.6M343.17,123.1v-2.6M343.17,41.6v2.6M359.20,123.1v-5M359.20,41.6v5M214.9,123.10h5M359.2,123.10h-5M214.9,82.35h2.6M359.2,82.35h-2.6M214.9,41.60h5M359.2,41.60h-5" stroke="#111" stroke-width="1" fill="none"/>
<path d="M392.00,122.7v-5M392.00,41.5v5M408.01,122.7v-2.6M408.01,41.5v2.6M424.02,122.7v-2.6M424.02,41.5v2.6M440.03,122.7v-5M440.03,41.5v5M456.04,122.7v-2.6M456.04,41.5v2.6M472.06,122.7v-2.6M472.06,41.5v2.6M488.07,122.7v-5M488.07,41.5v5M504.08,122.7v-2.6M504.08,41.5v2.6M520.09,122.7v-2.6M520.09,41.5v2.6M536.10,122.7v-5M536.10,41.5v5M392.0,122.70h5M536.1,122.70h-5M392.0,82.10h2.6M536.1,82.10h-2.6M392.0,41.50h5M536.1,41.50h-5" stroke="#111" stroke-width="1" fill="none"/>
<path d="M41.50,247.2v-5M41.50,165.8v5M64.99,247.2v-2.6M64.99,165.8v2.6M78.74,247.2v-2.6M78.74,165.8v2.6M88.49,247.2v-2.6M88.49,165.8v2.6M96.05,247.2v-2.6M96.05,165.8v2.6M102.23,247.2v-2.6M102.23,165.8v2.6M107.46,247.2v-2.6M107.46,165.8v2.6M111.98,247.2v-2.6M111.98,165.8v2.6M115.97,247.2v-2.6M115.97,165.8v2.6M119.54,247.2v-5M119.54,165.8v5M143.04,247.2v-2.6M143.04,165.8v2.6M156.78,247.2v-2.6M156.78,165.8v2.6M166.53,247.2v-2.6M166.53,165.8v2.6M174.10,247.2v-2.6M174.10,165.8v2.6M180.28,247.2v-2.6M180.28,165.8v2.6M185.50,247.2v-2.6M185.50,165.8v2.6M41.5,247.20h5M185.5,247.20h-5M41.5,237.31h2.6M185.5,237.31h-2.6M41.5,231.52h2.6M185.5,231.52h-2.6M41.5,227.42h2.6M185.5,227.42h-2.6M41.5,224.23h2.6M185.5,224.23h-2.6M41.5,221.63h2.6M185.5,221.63h-2.6M41.5,219.43h2.6M185.5,219.43h-2.6M41.5,217.52h2.6M185.5,217.52h-2.6M41.5,215.84h2.6M185.5,215.84h-2.6M41.5,214.34h5M185.5,214.34h-5M41.5,204.45h2.6M185.5,204.45h-2.6M41.5,198.66h2.6M185.5,198.66h-2.6M41.5,194.56h2.6M185.5,194.56h-2.6M41.5,191.37h2.6M185.5,191.37h-2.6M41.5,188.77h2.6M185.5,188.77h-2.6M41.5,186.57h2.6M185.5,186.57h-2.6M41.5,184.66h2.6M185.5,184.66h-2.6M41.5,182.98h2.6M185.5,182.98h-2.6M41.5,181.48h5M185.5,181.48h-5M41.5,171.59h2.6M185.5,171.59h-2.6M41.5,165.80h2.6M185.5,165.80h-2.6" stroke="#111" stroke-width="1" fill="none"/>
<path d="M215.50,245.6v-5M215.50,164.1v5M239.03,245.6v-2.6M239.03,164.1v2.6M252.79,245.6v-2.6M252.79,164.1v2.6M262.55,245.6v-2.6M262.55,164.1v2.6M270.13,245.6v-2.6M270.13,164.1v2.6M276.31,245.6v-2.6M276.31,164.1v2.6M281.55,245.6v-2.6M281.55,164.1v2.6M286.08,245.6v-2.6M286.08,164.1v2.6M290.08,245.6v-2.6M290.08,164.1v2.6M293.65,245.6v-5M293.65,164.1v5M317.18,245.6v-2.6M317.18,164.1v2.6M330.94,245.6v-2.6M330.94,164.1v2.6M340.71,245.6v-2.6M340.71,164.1v2.6M348.28,245.6v-2.6M348.28,164.1v2.6M354.47,245.6v-2.6M354.47,164.1v2.6M359.70,245.6v-2.6M359.70,164.1v2.6M215.5,245.60h5M359.7,245.60h-5M215.5,235.70h2.6M359.7,235.70h-2.6M215.5,229.90h2.6M359.7,229.90h-2.6M215.5,225.79h2.6M359.7,225.79h-2.6M215.5,222.60h2.6M359.7,222.60h-2.6M215.5,220.00h2.6M359.7,220.00h-2.6M215.5,217.80h2.6M359.7,217.80h-2.6M215.5,215.89h2.6M359.7,215.89h-2.6M215.5,214.20h2.6M359.7,214.20h-2.6M215.5,212.70h5M359.7,212.70h-5M215.5,202.79h2.6M359.7,202.79h-2.6M215.5,197.00h2.6M359.7,197.00h-2.6M215.5,192.89h2.6M359.7,192.89h-2.6M215.5,189.70h2.6M359.7,189.70h-2.6M215.5,187.10h2.6M359.7,187.10h-2.6M215.5,184.89h2.6M359.7,184.89h-2.6M215.5,182.99h2.6M359.7,182.99h-2.6M215.5,181.30h2.6M359.7,181.30h-2.6M215.5,179.80h5M359.7,179.80h-5M215.5,169.89h2.6M359.7,169.89h-2.6M215.5,164.10h2.6M359.7,164.10h-2.6" stroke="#111" stroke-width="1" fill="none"/>
<path d="M392.50,244.3v-5M392.50,162.6v5M416.11,244.3v-2.6M416.11,162.6v2.6M429.92,244.3v-2.6M429.92,162.6v2.6M439.72,244.3v-2.6M439.72,162.6v2.6M447.32,244.3v-2.6M447.32,162.6v2.6M453.53,244.3v-2.6M453.53,162.6v2.6M458.78,244.3v-2.6M458.78,162.6v2.6M463.32,244.3v-2.6M463.32,162.6v2.6M467.34,244.3v-2.6M467.34,162.6v2.6M470.92,244.3v-5M470.92,162.6v5M494.53,244.3v-2.6M494.53,162.6v2.6M508.34,244.3v-2.6M508.34,162.6v2.6M518.14,244.3v-2.6M518.14,162.6v2.6M525.74,244.3v-2.6M525.74,162.6v2.6M531.95,244.3v-2.6M531.95,162.6v2.6M537.20,244.3v-2.6M537.20,162.6v2.6M392.5,244.30h5M537.2,244.30h-5M392.5,234.37h2.6M537.2,234.37h-2.6M392.5,228.56h2.6M537.2,228.56h-2.6M392.5,224.44h2.6M537.2,224.44h-2.6M392.5,221.25h2.6M537.2,221.25h-2.6M392.5,218.64h2.6M537.2,218.64h-2.6M392.5,216.43h2.6M537.2,216.43h-2.6M392.5,214.51h2.6M537.2,214.51h-2.6M392.5,212.83h2.6M537.2,212.83h-2.6M392.5,211.32h5M537.2,211.32h-5M392.5,201.39h2.6M537.2,201.39h-2.6M392.5,195.58h2.6M537.2,195.58h-2.6M392.5,191.46h2.6M537.2,191.46h-2.6M392.5,188.26h2.6M537.2,188.26h-2.6M392.5,185.65h2.6M537.2,185.65h-2.6M392.5,183.45h2.6M537.2,183.45h-2.6M392.5,181.53h2.6M537.2,181.53h-2.6M392.5,179.85h2.6M537.2,179.85h-2.6M392.5,178.34h5M537.2,178.34h-5M392.5,168.41h2.6M537.2,168.41h-2.6M392.5,162.60h2.6M537.2,162.60h-2.6" stroke="#111" stroke-width="1" fill="none"/>
<text x="38.40" y="138.90" font-size="12" text-anchor="middle" font-family="Liberation Sans, sans-serif" >50</text>
<text x="86.43" y="138.90" font-size="12" text-anchor="middle" font-family="Liberation Sans, sans-serif" >80</text>
<text x="134.47" y="138.90" font-size="12" text-anchor="middle" font-family="Liberation Sans, sans-serif" >110</text>
<text x="182.50" y="138.90" font-size="12" text-anchor="middle" font-family="Liberation Sans, sans-serif" >140</text>
<text x="31.90" y="127.00" font-size="12" text-anchor="end" font-family="Liberation Sans, sans-serif" >0</text>
<text x="31.90" y="86.50" font-size="12" text-anchor="end" font-family="Liberation Sans, sans-serif" >2</text>
<text x="31.90" y="46.00" font-size="12" text-anchor="end" font-family="Liberation Sans, sans-serif" >4</text>
<text x="214.90" y="139.30" font-size="12" text-anchor="middle" font-family="Liberation Sans, sans-serif" >50</text>
<text x="263.00" y="139.30" font-size="12" text-anchor="middle" font-family="Liberation Sans, sans-serif" >80</text>
<text x="311.10" y="139.30" font-size="12" text-anchor="middle" font-family="Liberation Sans, sans-serif" >110</text>
<text x="359.20" y="139.30" font-size="12" text-anchor="middle" font-family="Liberation Sans, sans-serif" >140</text>
<text x="208.40" y="127.40" font-size="12" text-anchor="end" font-family="Liberation Sans, sans-serif" >0</text>
<text x="208.40" y="45.90" font-size="12" text-anchor="end" font-family="Liberation Sans, sans-serif" >2</text>
<text x="392.00" y="138.90" font-size="12" text-anchor="middle" font-family="Liberation Sans, sans-serif" >50</text>
<text x="440.03" y="138.90" font-size="12" text-anchor="middle" font-family="Liberation Sans, sans-serif" >80</text>
<text x="488.07" y="138.90" font-size="12" text-anchor="middle" font-family="Liberation Sans, sans-serif" >110</text>
<text x="536.10" y="138.90" font-size="12" text-anchor="middle" font-family="Liberation Sans, sans-serif" >140</text>
<text x="385.50" y="127.00" font-size="12" text-anchor="end" font-family="Liberation Sans, sans-serif" >0</text>
<text x="385.50" y="45.80" font-size="12" text-anchor="end" font-family="Liberation Sans, sans-serif" >2</text>
<text x="41.50" y="263.20" font-size="12" text-anchor="middle" font-family="Liberation Sans, sans-serif" >0.01</text>
<text x="119.54" y="263.80" font-size="12" text-anchor="middle" font-family="Liberation Sans, sans-serif" >0.1</text>
<text x="38.30" y="251.70" text-anchor="end" font-family="Liberation Sans, sans-serif" font-size="12">10<tspan font-size="8" dy="-5.5">4</tspan></text>
<text x="38.30" y="218.84" text-anchor="end" font-family="Liberation Sans, sans-serif" font-size="12">10<tspan font-size="8" dy="-5.5">5</tspan></text>
<text x="38.30" y="185.98" text-anchor="end" font-family="Liberation Sans, sans-serif" font-size="12">10<tspan font-size="8" dy="-5.5">6</tspan></text>
<text x="215.50" y="261.60" font-size="12" text-anchor="middle" font-family="Liberation Sans, sans-serif" >0.01</text>
<text x="293.65" y="262.20" font-size="12" text-anchor="middle" font-family="Liberation Sans, sans-serif" >0.1</text>
<text x="212.30" y="250.10" text-anchor="end" font-family="Liberation Sans, sans-serif" font-size="12">10<tspan font-size="8" dy="-5.5">4</tspan></text>
<text x="212.30" y="217.20" text-anchor="end" font-family="Liberation Sans, sans-serif" font-size="12">10<tspan font-size="8" dy="-5.5">5</tspan></text>
<text x="212.30" y="184.30" text-anchor="end" font-family="Liberation Sans, sans-serif" font-size="12">10<tspan font-size="8" dy="-5.5">6</tspan></text>
<text x="392.50" y="260.30" font-size="12" text-anchor="middle" font-family="Liberation Sans, sans-serif" >0.01</text>
<text x="470.92" y="260.90" font-size="12" text-anchor="middle" font-family="Liberation Sans, sans-serif" >0.1</text>
<text x="389.30" y="248.80" text-anchor="end" font-family="Liberation Sans, sans-serif" font-size="12">10<tspan font-size="8" dy="-5.5">4</tspan></text>
<text x="389.30" y="215.82" text-anchor="end" font-family="Liberation Sans, sans-serif" font-size="12">10<tspan font-size="8" dy="-5.5">5</tspan></text>
<text x="389.30" y="182.84" text-anchor="end" font-family="Liberation Sans, sans-serif" font-size="12">10<tspan font-size="8" dy="-5.5">6</tspan></text>
<text x="113.90" y="153.90" font-size="14.3" text-anchor="middle" font-family="Liberation Sans, sans-serif" >T (K)</text>
<text x="287.90" y="150.70" font-size="14.3" text-anchor="middle" font-family="Liberation Sans, sans-serif" >T (K)</text>
<text x="464.30" y="148.70" font-size="14.3" text-anchor="middle" font-family="Liberation Sans, sans-serif" >T (K)</text>
<text x="113.95" y="283.80" text-anchor="middle" font-family="Liberation Sans, sans-serif" font-size="14">ln(T/T<tspan font-family="Liberation Serif, serif" font-weight="bold" font-size="9.2" dy="4">mf</tspan><tspan dy="-4">)</tspan></text>
<text x="288.40" y="279.30" text-anchor="middle" font-family="Liberation Sans, sans-serif" font-size="14">ln(T/T<tspan font-family="Liberation Serif, serif" font-weight="bold" font-size="9.2" dy="4">mf</tspan><tspan dy="-4">)</tspan></text>
<text x="464.00" y="277.30" text-anchor="middle" font-family="Liberation Sans, sans-serif" font-size="14">ln(T/T<tspan font-family="Liberation Serif, serif" font-weight="bold" font-size="9.2" dy="4">mf</tspan><tspan dy="-4">)</tspan></text>
<text transform="translate(16.2,104.6) rotate(-90)" font-family="Liberation Sans, sans-serif" font-size="14.5">ρ</text>
<text transform="translate(16.2,89.8) rotate(-90)" font-family="Liberation Sans, sans-serif" font-size="14.5" textLength="40.2" lengthAdjust="spacingAndGlyphs">(μΩ·m)</text>
<text transform="translate(15.8,234.3) rotate(-90)" font-family="Liberation Sans, sans-serif" font-size="15.5" textLength="13.8" lengthAdjust="spacingAndGlyphs">Δσ</text>
<text transform="translate(16.0,212.9) rotate(-90)" font-family="Liberation Sans, sans-serif" font-size="14.5" textLength="34.6" lengthAdjust="spacingAndGlyphs">(Ω·m)</text>
<text transform="translate(8.5,178.6) rotate(-90)" font-family="Liberation Sans, sans-serif" font-size="9.5" textLength="7.0" lengthAdjust="spacingAndGlyphs">-1</text>
<text x="53.75" y="63.60" font-size="16" text-anchor="start" font-family="Liberation Sans, sans-serif" >(a)</text>
<text x="226.65" y="62.80" font-size="16" text-anchor="start" font-family="Liberation Sans, sans-serif" >(b)</text>
<text x="405.35" y="62.20" font-size="16" text-anchor="start" font-family="Liberation Sans, sans-serif" >(c)</text>
<text x="57.45" y="216.40" font-size="16" text-anchor="start" font-family="Liberation Sans, sans-serif" >(d)</text>
<text x="232.95" y="214.40" font-size="16" text-anchor="start" font-family="Liberation Sans, sans-serif" >(e)</text>
<text x="411.75" y="211.00" font-size="16" text-anchor="start" font-family="Liberation Sans, sans-serif" >(f)</text>
<g transform="translate(136.40,109.60) scale(1.0)"><path d="M0.7,-2.2 C0.5,-0.5 1.5,-0.4 2.4,-1.0 C3.7,-1.9 5.2,-6.2 6.4,-9.8" fill="none" stroke="#000" stroke-width="1.1" stroke-linecap="round"/><path d="M5.5,-10.0 L7.1,-10.5 L8.5,-5 L9.2,-0.8 L7.5,0.0 L6.4,-5 Z" fill="#000"/><path d="M8.2,-0.4 C9.4,-3.2 10.7,-7.0 11.9,-9.4" fill="none" stroke="#000" stroke-width="1.05" stroke-linecap="round"/><circle cx="12.1" cy="-9.6" r="0.9" fill="#000"/></g>
<text x="153.50" y="109.60" font-size="14.2" text-anchor="start" font-family="Liberation Sans, sans-serif" stroke="#000" stroke-width="0.15">= 4</text>
<g transform="translate(313.60,110.50) scale(1.0)"><path d="M0.7,-2.2 C0.5,-0.5 1.5,-0.4 2.4,-1.0 C3.7,-1.9 5.2,-6.2 6.4,-9.8" fill="none" stroke="#000" stroke-width="1.1" stroke-linecap="round"/><path d="M5.5,-10.0 L7.1,-10.5 L8.5,-5 L9.2,-0.8 L7.5,0.0 L6.4,-5 Z" fill="#000"/><path d="M8.2,-0.4 C9.4,-3.2 10.7,-7.0 11.9,-9.4" fill="none" stroke="#000" stroke-width="1.05" stroke-linecap="round"/><circle cx="12.1" cy="-9.6" r="0.9" fill="#000"/></g>
<text x="330.60" y="110.50" font-size="14.2" text-anchor="start" font-family="Liberation Sans, sans-serif" stroke="#000" stroke-width="0.15">= 6</text>
<g transform="translate(486.10,109.80) scale(1.0)"><path d="M0.7,-2.2 C0.5,-0.5 1.5,-0.4 2.4,-1.0 C3.7,-1.9 5.2,-6.2 6.4,-9.8" fill="none" stroke="#000" stroke-width="1.1" stroke-linecap="round"/><path d="M5.5,-10.0 L7.1,-10.5 L8.5,-5 L9.2,-0.8 L7.5,0.0 L6.4,-5 Z" fill="#000"/><path d="M8.2,-0.4 C9.4,-3.2 10.7,-7.0 11.9,-9.4" fill="none" stroke="#000" stroke-width="1.05" stroke-linecap="round"/><circle cx="12.1" cy="-9.6" r="0.9" fill="#000"/></g>
<text x="503.00" y="109.80" font-size="14.2" text-anchor="start" font-family="Liberation Sans, sans-serif" stroke="#000" stroke-width="0.15">= 10</text>
<g transform="translate(52.00,234.90) scale(1.0)"><path d="M0.7,-2.2 C0.5,-0.5 1.5,-0.4 2.4,-1.0 C3.7,-1.9 5.2,-6.2 6.4,-9.8" fill="none" stroke="#000" stroke-width="1.1" stroke-linecap="round"/><path d="M5.5,-10.0 L7.1,-10.5 L8.5,-5 L9.2,-0.8 L7.5,0.0 L6.4,-5 Z" fill="#000"/><path d="M8.2,-0.4 C9.4,-3.2 10.7,-7.0 11.9,-9.4" fill="none" stroke="#000" stroke-width="1.05" stroke-linecap="round"/><circle cx="12.1" cy="-9.6" r="0.9" fill="#000"/></g>
<text x="69.00" y="234.90" font-size="14.2" text-anchor="start" font-family="Liberation Sans, sans-serif" stroke="#000" stroke-width="0.15">= 4</text>
<g transform="translate(228.00,232.90) scale(1.0)"><path d="M0.7,-2.2 C0.5,-0.5 1.5,-0.4 2.4,-1.0 C3.7,-1.9 5.2,-6.2 6.4,-9.8" fill="none" stroke="#000" stroke-width="1.1" stroke-linecap="round"/><path d="M5.5,-10.0 L7.1,-10.5 L8.5,-5 L9.2,-0.8 L7.5,0.0 L6.4,-5 Z" fill="#000"/><path d="M8.2,-0.4 C9.4,-3.2 10.7,-7.0 11.9,-9.4" fill="none" stroke="#000" stroke-width="1.05" stroke-linecap="round"/><circle cx="12.1" cy="-9.6" r="0.9" fill="#000"/></g>
<text x="245.10" y="232.90" font-size="14.2" text-anchor="start" font-family="Liberation Sans, sans-serif" stroke="#000" stroke-width="0.15">= 6</text>
<g transform="translate(405.10,231.90) scale(1.0)"><path d="M0.7,-2.2 C0.5,-0.5 1.5,-0.4 2.4,-1.0 C3.7,-1.9 5.2,-6.2 6.4,-9.8" fill="none" stroke="#000" stroke-width="1.1" stroke-linecap="round"/><path d="M5.5,-10.0 L7.1,-10.5 L8.5,-5 L9.2,-0.8 L7.5,0.0 L6.4,-5 Z" fill="#000"/><path d="M8.2,-0.4 C9.4,-3.2 10.7,-7.0 11.9,-9.4" fill="none" stroke="#000" stroke-width="1.05" stroke-linecap="round"/><circle cx="12.1" cy="-9.6" r="0.9" fill="#000"/></g>
<text x="421.80" y="231.90" font-size="14.2" text-anchor="start" font-family="Liberation Sans, sans-serif" stroke="#000" stroke-width="0.15">= 10</text>
<rect x="177.4" y="3.6" width="183" height="14.9" fill="#fff" stroke="#666" stroke-width="0.9"/>
<line x1="183.1" y1="12.45" x2="199.6" y2="12.45" stroke="#111" stroke-width="1.3"/>
<g transform="translate(202.80,15.60) scale(0.58)"><path d="M0.7,-2.2 C0.5,-0.5 1.5,-0.4 2.4,-1.0 C3.7,-1.9 5.2,-6.2 6.4,-9.8" fill="none" stroke="#000" stroke-width="1.1" stroke-linecap="round"/><path d="M5.5,-10.0 L7.1,-10.5 L8.5,-5 L9.2,-0.8 L7.5,0.0 L6.4,-5 Z" fill="#000"/><path d="M8.2,-0.4 C9.4,-3.2 10.7,-7.0 11.9,-9.4" fill="none" stroke="#000" stroke-width="1.05" stroke-linecap="round"/><circle cx="12.1" cy="-9.6" r="0.9" fill="#000"/></g>
<text x="210.4" y="16" font-size="8.8" textLength="53.6" lengthAdjust="spacingAndGlyphs" font-family="Liberation Sans, sans-serif">-bilayers theory</text>
<circle cx="278" cy="12.6" r="2.3" fill="none" stroke="#555" stroke-width="0.8"/>
<text x="288.3" y="16" font-size="8.8" textLength="29.0" lengthAdjust="spacingAndGlyphs" font-family="Liberation Sans, sans-serif">BSCCO</text>
<g transform="translate(320.30,15.60) scale(0.58)"><path d="M0.7,-2.2 C0.5,-0.5 1.5,-0.4 2.4,-1.0 C3.7,-1.9 5.2,-6.2 6.4,-9.8" fill="none" stroke="#000" stroke-width="1.1" stroke-linecap="round"/><path d="M5.5,-10.0 L7.1,-10.5 L8.5,-5 L9.2,-0.8 L7.5,0.0 L6.4,-5 Z" fill="#000"/><path d="M8.2,-0.4 C9.4,-3.2 10.7,-7.0 11.9,-9.4" fill="none" stroke="#000" stroke-width="1.05" stroke-linecap="round"/><circle cx="12.1" cy="-9.6" r="0.9" fill="#000"/></g>
<text x="327.3" y="16" font-size="8.8" textLength="30.6" lengthAdjust="spacingAndGlyphs" font-family="Liberation Sans, sans-serif">-bilayers</text>
</svg></body></html>
